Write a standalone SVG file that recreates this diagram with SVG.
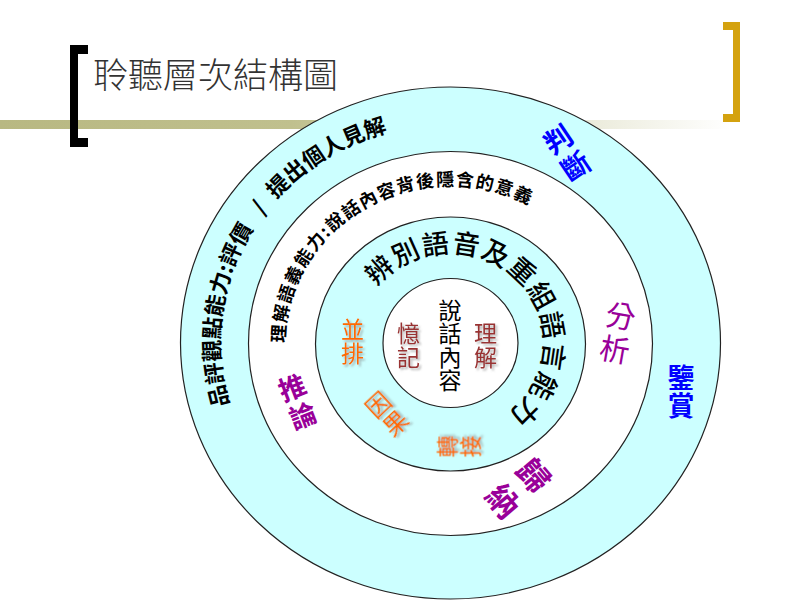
<svg xmlns="http://www.w3.org/2000/svg" width="800" height="600" viewBox="0 0 800 600">
<defs>
<style>
text{font-family:"Noto Sans CJK TC","Noto Sans CJK SC",sans-serif;}
.ring{stroke:#222;stroke-width:1.2;}
.cy{fill:#ccffff;}
.wh{fill:#ffffff;}
.c{text-anchor:middle;dominant-baseline:central;}
.blk{fill:#000;}
.org{fill:#ff6a00;filter:url(#sh);}
.red{fill:#993333;filter:url(#sh);}
.pur{fill:#990099;}
.blu{fill:#0000ff;font-weight:bold;}
</style>
<filter id="sh" x="-20%" y="-20%" width="150%" height="150%">
<feDropShadow dx="2" dy="2" stdDeviation="0.8" flood-color="#777" flood-opacity="0.55"/>
</filter>
<linearGradient id="lineGrad" x1="0" y1="0" x2="1" y2="0">
<stop offset="0" stop-color="#b8b882"/>
<stop offset="0.4" stop-color="#c0c08e"/>
<stop offset="1" stop-color="#c0c08e" stop-opacity="0"/>
</linearGradient>
<path id="p1" d="M450,562 A230,219 0 0 1 450,124 A230,219 0 0 1 450,562"/>
<path id="p2" d="M450,500 A165,157 0 0 1 450,186 A165,157 0 0 1 450,500"/>
<path id="p3" d="M450,433 A94,90 0 0 1 450,253 A94,90 0 0 1 450,433"/>
</defs>

<rect width="800" height="600" fill="#ffffff"/>

<g id="header">
<rect x="0" y="120" width="730" height="9" fill="url(#lineGrad)"/>
<path d="M88,45 H70 V147 H88 V138 H78 V54 H88 Z" fill="#000"/>
<path d="M723,22 H740 V122 H723 V114 H733 V30 H723 Z" fill="#d4a20f"/>
<text x="93" y="88" font-size="35" font-weight="300" fill="#333">聆聽層次結構圖</text>
</g>

<g id="rings">
<ellipse class="ring cy" cx="450.5" cy="343" rx="270" ry="256"/>
<ellipse class="ring wh" cx="450.5" cy="343.5" rx="202" ry="192"/>
<ellipse class="ring cy" cx="450.5" cy="344" rx="135" ry="127"/>
<ellipse class="ring wh" cx="450.5" cy="343" rx="67.5" ry="64.5"/>
</g>

<g id="ring-outer-label">
<text font-size="22" font-weight="bold" class="blk"><textPath href="#p1" startOffset="290">品評觀點能力:評價<tspan dx="16">/</tspan><tspan dx="12">提出個人見解</tspan></textPath></text>
</g>
<g id="ring-third-label">
<text font-size="18" font-weight="bold" class="blk" letter-spacing="1.3"><textPath href="#p2" startOffset="253">理解語義能力:說話內容背後隱含的意義</textPath></text>
</g>
<g id="ring-second-label">
<text font-size="27" font-weight="500" class="blk" letter-spacing="1.3"><textPath href="#p3" startOffset="205">辨別語音及重組語言能力</textPath></text>
</g>

<g id="center">
<text class="c blk" font-size="23"><tspan x="450" y="308.5">說</tspan><tspan x="450" y="332">話</tspan><tspan x="450" y="355.5">內</tspan><tspan x="450" y="379">容</tspan></text>
</g>
<g id="yiji">
<text class="c red" font-size="23"><tspan x="408.5" y="332">憶</tspan><tspan x="408.5" y="355.5">記</tspan></text>
</g>
<g id="lijie">
<text class="c red" font-size="23"><tspan x="485.5" y="332">理</tspan><tspan x="485.5" y="355.5">解</tspan></text>
</g>

<g id="bingpai">
<text class="c org" font-size="23"><tspan x="352.5" y="328">並</tspan><tspan x="352.5" y="351.5">排</tspan></text>
</g>
<g id="yinguo" transform="translate(385,412) rotate(-43)">
<text class="c org" font-size="24"><tspan x="0" y="-12.5">因</tspan><tspan x="0" y="12.5">果</tspan></text>
</g>
<g id="zhuanjie" transform="translate(456.5,446.5) rotate(-90)">
<text class="c org" font-size="22"><tspan x="0" y="-11.5">轉</tspan><tspan x="0" y="11.5">接</tspan></text>
</g>

<g id="tuilun" transform="translate(297,400) rotate(-21)">
<text class="c pur" font-size="27" font-weight="bold"><tspan x="0" y="-15">推</tspan><tspan x="0" y="15">論</tspan></text>
</g>
<g id="fenxi" transform="translate(618,331) rotate(10)">
<text class="c pur" font-size="30"><tspan x="0" y="-17">分</tspan><tspan x="0" y="17">析</tspan></text>
</g>
<g id="guina" transform="translate(520,487) rotate(50)">
<text class="c pur" font-size="32" font-weight="bold"><tspan x="0" y="-20">歸</tspan><tspan x="0" y="20">納</tspan></text>
</g>

<g id="panduan" transform="translate(566,151.5) rotate(-34)">
<text class="c blu" font-size="28"><tspan x="0" y="-16">判</tspan><tspan x="0" y="16">斷</tspan></text>
</g>
<g id="jianshang">
<text class="c blu" font-size="27"><tspan x="681" y="375.5">鑒</tspan><tspan x="681" y="403.5">賞</tspan></text>
</g>
</svg>
